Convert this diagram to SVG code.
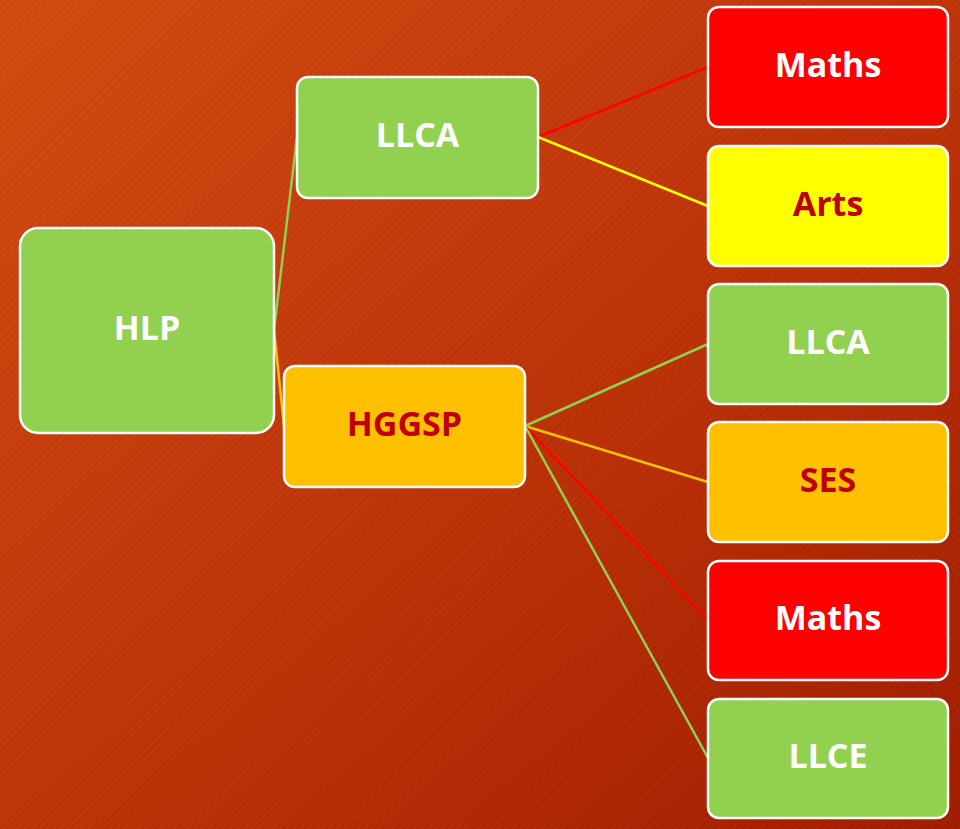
<svg xmlns="http://www.w3.org/2000/svg" width="960" height="829" viewBox="0 0 960 829">
  <defs>
    <linearGradient id="bg" x1="0" y1="0" x2="1" y2="1">
      <stop offset="0" stop-color="#D64D12"/>
      <stop offset="0.5" stop-color="#C2360A"/>
      <stop offset="1" stop-color="#A51E00"/>
    </linearGradient>
    <pattern id="stripes" width="5" height="5" patternUnits="userSpaceOnUse" patternTransform="rotate(45)">
      <rect x="0" y="0" width="2" height="5" fill="#000" fill-opacity="0.06"/>
    </pattern>
    <style>
      .box { stroke: #FFFFFF; stroke-width: 2.5; }
      .green { fill: #92D050; }
      .red { fill: #FF0000; }
      .yellow { fill: #FFFF00; }
      .orange { fill: #FFC000; }
      .lbl { font-family: "Open Sans", "Liberation Sans", sans-serif; font-weight: bold; font-size: 34px; text-anchor: middle; dominant-baseline: central; }
      .w { fill: #FFFFFF; }
      .dr { fill: #C00000; }
      .c { fill: none; stroke-width: 2.5; }
    </style>
  </defs>
  <rect width="960" height="829" fill="url(#bg)"/>
  <rect width="960" height="829" fill="url(#stripes)"/>

  <g id="connectors">
    <line class="c" x1="274" y1="330" x2="297" y2="137" stroke="#92D050"/>
    <line class="c" x1="274" y1="330" x2="284" y2="426" stroke="#FFC000"/>
    <line class="c" x1="538" y1="137" x2="708" y2="67" stroke="#FF0000"/>
    <line class="c" x1="538" y1="137" x2="708" y2="206" stroke="#FFFF00"/>
    <line class="c" x1="525" y1="426" x2="708" y2="344" stroke="#92D050"/>
    <line class="c" x1="525" y1="426" x2="708" y2="482" stroke="#FFC000"/>
    <line class="c" x1="525" y1="426" x2="708" y2="620" stroke="#FF0000"/>
    <line class="c" x1="525" y1="426" x2="708" y2="758" stroke="#92D050"/>
  </g>

  <g id="hlp">
    <rect class="box green" x="20" y="228" width="254" height="205" rx="18"/>
    <text class="lbl w" x="147" y="327">HLP</text>
  </g>
  <g id="llca-mid">
    <rect class="box green" x="297" y="77" width="241" height="121" rx="11"/>
    <text class="lbl w" x="417.5" y="134">LLCA</text>
  </g>
  <g id="hggsp">
    <rect class="box orange" x="284" y="366" width="241" height="121" rx="11"/>
    <text class="lbl dr" x="404.5" y="423">HGGSP</text>
  </g>
  <g id="maths1">
    <rect class="box red" x="708" y="7" width="240" height="120" rx="11"/>
    <text class="lbl w" x="828" y="64">Maths</text>
  </g>
  <g id="arts">
    <rect class="box yellow" x="708" y="146" width="240" height="120" rx="11"/>
    <text class="lbl dr" x="828" y="203">Arts</text>
  </g>
  <g id="llca-right">
    <rect class="box green" x="708" y="284" width="240" height="120" rx="11"/>
    <text class="lbl w" x="828" y="341">LLCA</text>
  </g>
  <g id="ses">
    <rect class="box orange" x="708" y="422" width="240" height="120" rx="11"/>
    <text class="lbl dr" x="828" y="479">SES</text>
  </g>
  <g id="maths2">
    <rect class="box red" x="708" y="561" width="240" height="119" rx="11"/>
    <text class="lbl w" x="828" y="617">Maths</text>
  </g>
  <g id="llce">
    <rect class="box green" x="708" y="699" width="240" height="119" rx="11"/>
    <text class="lbl w" x="828" y="755">LLCE</text>
  </g>
</svg>
